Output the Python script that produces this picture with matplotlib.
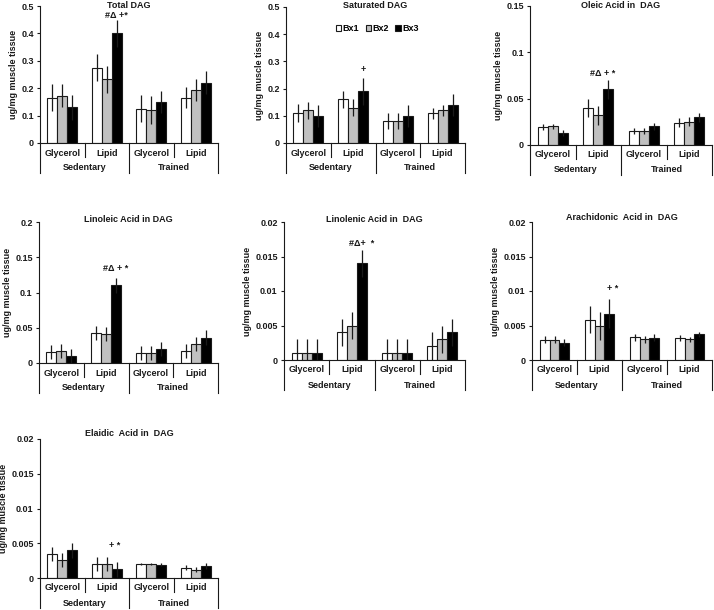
import matplotlib
matplotlib.use("Agg")
import matplotlib.pyplot as plt
import numpy as np
from matplotlib.transforms import blended_transform_factory, ScaledTranslation
from matplotlib.ticker import MultipleLocator, FuncFormatter
from matplotlib.patches import Patch

plt.rcParams['font.family'] = ['Liberation Sans', 'DejaVu Sans']
plt.rcParams['font.weight'] = 'bold'
plt.rcParams['font.size'] = 6.5

# ---------------- data ----------------
groups = ['Glycerol', 'Lipid', 'Glycerol', 'Lipid']
conditions = ['Sedentary', 'Trained']
series = ['Bx1', 'Bx2', 'Bx3']
ylabel = 'ug/mg muscle tissue'

titles = ['Total DAG', 'Saturated DAG', 'Oleic Acid in  DAG',
          'Linoleic Acid in DAG', 'Linolenic Acid in  DAG',
          'Arachidonic  Acid in  DAG', 'Elaidic  Acid in  DAG']

total_bx1 = [0.165, 0.275, 0.125, 0.166]
total_bx2 = [0.172, 0.232, 0.120, 0.192]
total_bx3 = [0.130, 0.400, 0.150, 0.220]
total_err1 = [0.050, 0.050, 0.050, 0.040]
total_err2 = [0.042, 0.050, 0.050, 0.040]
total_err3 = [0.045, 0.050, 0.040, 0.042]

sat_bx1 = [0.110, 0.160, 0.080, 0.110]
sat_bx2 = [0.120, 0.130, 0.080, 0.120]
sat_bx3 = [0.100, 0.190, 0.100, 0.140]
sat_err1 = [0.032, 0.030, 0.030, 0.020]
sat_err2 = [0.030, 0.030, 0.030, 0.020]
sat_err3 = [0.040, 0.050, 0.040, 0.040]

ole_bx1 = [0.0193, 0.040, 0.015, 0.024]
ole_bx2 = [0.020, 0.032, 0.015, 0.025]
ole_bx3 = [0.013, 0.060, 0.020, 0.030]
ole_err1 = [0.003, 0.010, 0.003, 0.005]
ole_err2 = [0.003, 0.010, 0.003, 0.005]
ole_err3 = [0.003, 0.010, 0.0035, 0.005]

linol_bx1 = [0.016, 0.043, 0.0147, 0.017]
linol_bx2 = [0.0175, 0.041, 0.0137, 0.027]
linol_bx3 = [0.010, 0.110, 0.020, 0.036]
linol_err1 = [0.010, 0.010, 0.010, 0.010]
linol_err2 = [0.010, 0.010, 0.010, 0.010]
linol_err3 = [0.010, 0.011, 0.010, 0.011]

linolen_bx1 = [0.001, 0.004, 0.001, 0.002]
linolen_bx2 = [0.001, 0.005, 0.001, 0.003]
linolen_bx3 = [0.001, 0.014, 0.001, 0.004]
linolen_err1 = [0.002, 0.002, 0.002, 0.002]
linolen_err2 = [0.002, 0.002, 0.002, 0.002]
linolen_err3 = [0.002, 0.002, 0.002, 0.002]

arach_bx1 = [0.00295, 0.00585, 0.0033, 0.0032]
arach_bx2 = [0.00295, 0.0049, 0.0030, 0.0030]
arach_bx3 = [0.0025, 0.0067, 0.0032, 0.0037]
arach_err1 = [0.0005, 0.0020, 0.0005, 0.0004]
arach_err2 = [0.0005, 0.0020, 0.0005, 0.0004]
arach_err3 = [0.0005, 0.0021, 0.0005, 0.0004]

elaid_bx1 = [0.0035, 0.0020, 0.0020, 0.0015]
elaid_bx2 = [0.00265, 0.0020, 0.0020, 0.0012]
elaid_bx3 = [0.0040, 0.00125, 0.0019, 0.0017]
elaid_err1 = [0.0010, 0.0010, 0.0002, 0.0004]
elaid_err2 = [0.0010, 0.0010, 0.0002, 0.0004]
elaid_err3 = [0.0011, 0.0011, 0.0002, 0.0004]

annotations = ['#\u0394 +*', '+', '#\u0394 + *', '#\u0394 + *', '#\u0394+  *', '+ *', '+ *']

y_max = [0.5, 0.5, 0.15, 0.2, 0.02, 0.02, 0.02]
y_step = [0.1, 0.1, 0.05, 0.05, 0.005, 0.005, 0.005]

panel_means = [
    (total_bx1, total_bx2, total_bx3),
    (sat_bx1, sat_bx2, sat_bx3),
    (ole_bx1, ole_bx2, ole_bx3),
    (linol_bx1, linol_bx2, linol_bx3),
    (linolen_bx1, linolen_bx2, linolen_bx3),
    (arach_bx1, arach_bx2, arach_bx3),
    (elaid_bx1, elaid_bx2, elaid_bx3),
]
panel_errs = [
    (total_err1, total_err2, total_err3),
    (sat_err1, sat_err2, sat_err3),
    (ole_err1, ole_err2, ole_err3),
    (linol_err1, linol_err2, linol_err3),
    (linolen_err1, linolen_err2, linolen_err3),
    (arach_err1, arach_err2, arach_err3),
    (elaid_err1, elaid_err2, elaid_err3),
]

# ---------------- layout / style ----------------
W, H = 714, 610
# left, bottom(px from top), right, top(px from top)
boxes_px = [
    (40, 143, 218, 6),
    (286, 143, 465, 7),
    (530, 145, 712, 6),
    (39, 363, 218, 222),
    (284, 360, 465, 222),
    (532, 360, 712, 222),
    (40, 578, 218, 439),
]
title_off_px = [0, 1, 0, 3, 3, 5, 5]
annot_off_px = [(0, 4), (0, 8), (-6, 7), (0, 9), (0, 6), (3, 11), (-2, 16)]
colors = ['white', '#c0c0c0', 'black']
edge = '#1a1a1a'
bar_w = 0.222
txt_col = '#1a1a1a'

fig = plt.figure(figsize=(W / 100, H / 100), dpi=100)

for k in range(7):
    l, b, r, t = boxes_px[k]
    ax = fig.add_axes([l / W, 1 - b / H, (r - l) / W, (b - t) / H])
    ax_h_px = b - t
    x = np.arange(len(groups))
    means = panel_means[k]
    errs = panel_errs[k]
    for j in range(3):
        xs = x + (j - 1) * bar_w
        ax.bar(xs, means[j], width=bar_w, color=colors[j], edgecolor=edge,
               linewidth=0.8, zorder=2, label=series[j])
        ax.errorbar(xs, means[j], yerr=errs[j], fmt='none', ecolor=edge,
                    elinewidth=0.9, capsize=0, zorder=3)
    ax.set_xlim(-0.5, len(groups) - 0.5)
    ax.set_ylim(0, y_max[k])
    ax.yaxis.set_major_locator(MultipleLocator(y_step[k]))
    ax.yaxis.set_major_formatter(FuncFormatter(lambda v, p: f'{v:g}'))
    ax.set_xticks([])
    for s in ['top', 'right']:
        ax.spines[s].set_visible(False)
    for s in ['left', 'bottom']:
        ax.spines[s].set_linewidth(0.8)
        ax.spines[s].set_color(edge)
    ax.tick_params(axis='y', length=2.5, width=0.8, pad=2, colors=txt_col, labelsize=6.5)
    ax.set_ylabel(ylabel, fontsize=6.5, fontweight='bold', labelpad=2, color=txt_col)

    # category separators below the x axis
    tr = blended_transform_factory(ax.transData, ax.transAxes)
    short = -14 / ax_h_px
    long_ = -30 / ax_h_px
    for bx in np.arange(-0.5, len(groups), 1.0):
        idx = int(round(bx + 0.5))
        ln = long_ if idx % 2 == 0 else short
        ax.plot([bx, bx], [0, ln], transform=tr, color=edge, lw=0.8, clip_on=False)
    for i, g in enumerate(groups):
        ax.text(i, -10 / ax_h_px, g, transform=tr, ha='center', va='center',
                fontsize=6.5, color=txt_col)
    for c, cname in enumerate(conditions):
        ax.text(2 * c + 0.5, -25 / ax_h_px, cname, transform=tr, ha='center',
                va='center', fontsize=6.5, color=txt_col)

    # title
    ax.text(0.5, 1 + title_off_px[k] / ax_h_px, titles[k], transform=ax.transAxes,
            ha='center', va='center', fontsize=6.5, color=txt_col)

    # significance annotation above Sedentary-Lipid Bx3
    dx, dy = annot_off_px[k]
    xa = 1 + bar_w
    ya = means[2][1] + errs[2][1]
    ax.annotate(annotations[k], xy=(xa, ya), xytext=(dx * 0.72, dy * 0.72),
                textcoords='offset points', ha='center', va='center',
                fontsize=6.5, color=txt_col)

    if k == 1:
        handles = [Patch(facecolor=colors[j], edgecolor=edge, linewidth=0.8,
                         label=series[j]) for j in range(3)]
        ax.legend(handles=handles, ncol=3, loc='center', bbox_to_anchor=(0.51, 0.84),
                  frameon=False, handlelength=0.6, handleheight=0.6,
                  handletextpad=0.15, columnspacing=0.7, fontsize=6.5, borderpad=0)

fig.savefig('out.png', dpi=100)
